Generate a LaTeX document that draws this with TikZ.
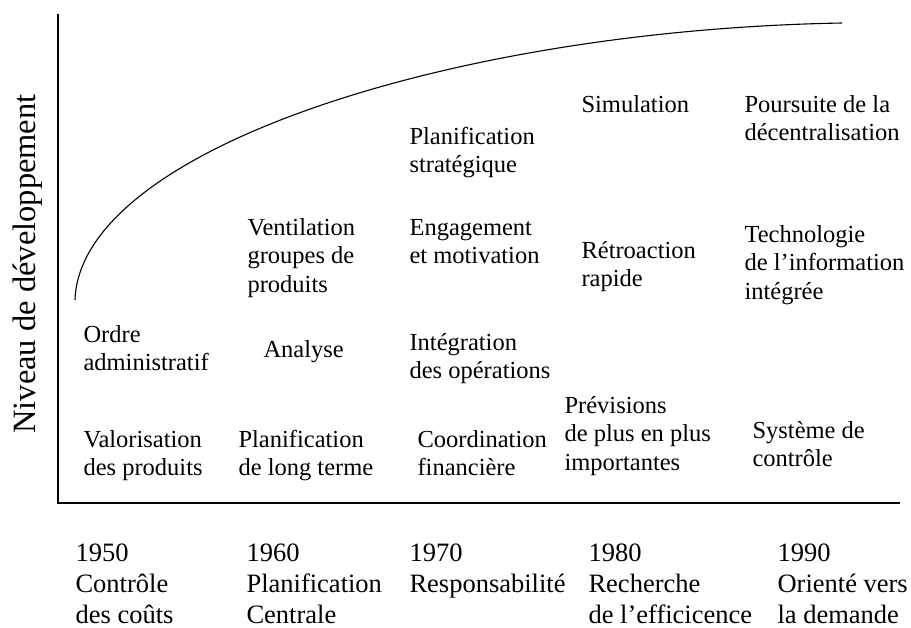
\documentclass[tikz,border=0pt]{standalone}
\usepackage{fontspec}
\setmainfont{Liberation Serif}
\newcommand{\lignes}[1]{\begin{tabular}[t]{@{}l@{}}#1\end{tabular}}
\begin{document}
\begin{tikzpicture}
  [x=1pt,y=-1pt,line width=1.1pt,
   every node/.style={inner sep=0pt,anchor=base west},
   lbl/.style={font=\fontsize{24.5}{28.8}\selectfont},
   era/.style={font=\fontsize{26.5}{31}\selectfont}]
  \useasboundingbox (0,0) rectangle (911,627);
  % axes
  \coordinate (top) at (58,14);
  \coordinate (orig) at (58,503);
  \coordinate (xend) at (900,503);
  \draw (top) -- (orig) -- (xend);
  \node[rotate=90,anchor=base,font=\fontsize{32.5}{36}\selectfont] (ylab) at (35,264) {Niveau de développement};
  % courbe
  \coordinate (c0) at (75,300);
  \coordinate (c1) at (842,23);
  \draw (c0) .. controls (80,150) and (450,30) .. (c1);
  % 1950
  \node[lbl] (ordre) at (83,342) {\lignes{Ordre\\administratif}};
  \node[lbl] (valor) at (83,447) {\lignes{Valorisation\\des produits}};
  % 1960
  \node[lbl] (vent) at (247,235) {\lignes{Ventilation\\groupes de\\produits}};
  \node[lbl] (anal) at (263,357) {Analyse};
  \node[lbl] (plong) at (238,447) {\lignes{Planification\\de long terme}};
  % 1970
  \node[lbl] (pstrat) at (409,144) {\lignes{Planification\\stratégique}};
  \node[lbl] (engag) at (409,235) {\lignes{Engagement\\et motivation}};
  \node[lbl] (integ) at (409,350) {\lignes{Intégration\\des opérations}};
  \node[lbl] (coord) at (417,447) {\lignes{Coordination\\financière}};
  % 1980
  \node[lbl] (simul) at (581,112) {Simulation};
  \node[lbl] (retro) at (581,258) {\lignes{Rétroaction\\rapide}};
  \node[lbl] (prev) at (564,413) {\lignes{Prévisions\\de plus en plus\\importantes}};
  % 1990
  \node[lbl] (pours) at (744,112) {\lignes{Poursuite de la\\décentralisation}};
  \node[lbl] (techno) at (744,242) {\lignes{Technologie\\de l’information\\intégrée}};
  \node[lbl] (syst) at (752,438) {\lignes{Système de\\contrôle}};
  % periodes
  \node[era] (e50) at (75,561) {\lignes{1950\\Contrôle\\des coûts}};
  \node[era] (e60) at (246,561) {\lignes{1960\\Planification\\Centrale}};
  \node[era] (e70) at (409,561) {\lignes{1970\\Responsabilité}};
  \node[era] (e80) at (588,561) {\lignes{1980\\Recherche\\de l’efficicence}};
  \node[era] (e90) at (777,561) {\lignes{1990\\Orienté vers\\la demande}};
\end{tikzpicture}
\end{document}
